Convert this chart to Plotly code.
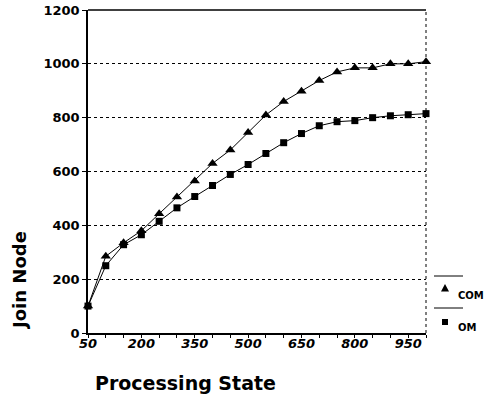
import plotly.graph_objects as go

states = [50, 100, 150, 200, 250, 300, 350, 400, 450, 500,
          550, 600, 650, 700, 750, 800, 850, 900, 950, 1000]
com = [100, 285, 335, 380, 443, 505, 565, 630, 680, 745,
       810, 860, 898, 938, 970, 985, 985, 1000, 1000, 1008]
om = [100, 250, 328, 365, 415, 465, 507, 548, 589, 626,
      667, 707, 741, 770, 785, 789, 800, 807, 811, 815]
x_ticks = [50, 200, 350, 500, 650, 800, 950]
y_ticks = [0, 200, 400, 600, 800, 1000, 1200]
series_names = ["COM", "OM"]

W, H = 492, 395
L, R, T, B = 88, 426, 10, 333  # plot area in pixels
PW, PH = R - L, B - T


def px(x):  # pixel -> paper x
    return (x - L) / PW


def py(y):  # pixel -> paper y
    return (B - y) / PH


FONT = "DejaVu Sans"

fig = go.Figure()
fig.add_trace(go.Scatter(x=states, y=com, mode="lines+markers", name=series_names[0],
                         line=dict(color="black", width=1),
                         marker=dict(symbol="triangle-up", size=9, color="black"),
                         cliponaxis=False))
fig.add_trace(go.Scatter(x=states, y=om, mode="lines+markers", name=series_names[1],
                         line=dict(color="black", width=1),
                         marker=dict(symbol="square", size=7, color="black"),
                         cliponaxis=False))

fig.update_layout(
    width=W, height=H,
    margin=dict(l=L, r=W - R, t=T, b=H - B),
    paper_bgcolor="white", plot_bgcolor="white",
    showlegend=False,
    xaxis=dict(range=[50, 1000], tickvals=x_ticks, automargin=False,
               ticks="outside", ticklen=3, tickwidth=1, tickcolor="black",
               ticklabelstandoff=-5,
               minor=dict(dtick=50, tick0=50, ticks="outside", ticklen=3, tickcolor="black"),
               showline=True, linecolor="black", linewidth=1.5,
               showgrid=False, zeroline=False,
               tickfont=dict(family=FONT, size=13, color="black", weight="bold", style="italic")),
    yaxis=dict(range=[0, 1200], tickvals=y_ticks, automargin=False,
               ticks="outside", ticklen=4, tickwidth=1, tickcolor="black",
               showline=True, linecolor="black", linewidth=1.5,
               showgrid=True, gridcolor="black", gridwidth=1, griddash="dot",
               zeroline=False,
               tickfont=dict(family=FONT, size=13, color="black", weight="bold")),
)

# frame: top solid, right dotted
fig.add_shape(type="line", xref="paper", yref="paper", x0=0, x1=1, y0=1, y1=1,
              line=dict(color="black", width=1.5))
fig.add_shape(type="line", xref="paper", yref="paper", x0=1, x1=1, y0=0, y1=1,
              line=dict(color="black", width=1, dash="dot"))

# legend: separator line above each symbol
for yy in (276, 308):
    fig.add_shape(type="line", xref="paper", yref="paper", x0=px(434), x1=px(463),
                  y0=py(yy), y1=py(yy), line=dict(color="black", width=1))
# triangle symbol
cx, cy = 445, 288
fig.add_shape(type="path", xref="paper", yref="paper",
              path=f"M {px(cx - 4)} {py(cy + 3.5)} L {px(cx + 4)} {py(cy + 3.5)} L {px(cx)} {py(cy - 4)} Z",
              fillcolor="black", line=dict(color="black", width=0))
# square symbol
cx, cy = 445, 322
fig.add_shape(type="rect", xref="paper", yref="paper",
              x0=px(cx - 3), x1=px(cx + 3), y0=py(cy + 3), y1=py(cy - 3),
              fillcolor="black", line=dict(color="black", width=0))

fig.add_annotation(xref="paper", yref="paper", x=px(456), y=py(295), text=series_names[0],
                   showarrow=False, xanchor="left", yanchor="middle",
                   font=dict(family=FONT, size=10, color="black", weight="bold"))
fig.add_annotation(xref="paper", yref="paper", x=px(456), y=py(327), text=series_names[1],
                   showarrow=False, xanchor="left", yanchor="middle",
                   font=dict(family=FONT, size=10, color="black", weight="bold"))

# axis titles
fig.add_annotation(xref="paper", yref="paper", x=px(185), y=py(383), text="Processing State",
                   showarrow=False, xanchor="center", yanchor="middle",
                   font=dict(family=FONT, size=19, color="black", weight="bold"))
fig.add_annotation(xref="paper", yref="paper", x=px(19), y=py(281), text="Join Node",
                   showarrow=False, textangle=-90, xanchor="center", yanchor="middle",
                   font=dict(family=FONT, size=18, color="black", weight="bold"))

fig.write_html("out.html", config={"displayModeBar": False},
               post_script="document.body.style.margin='0';document.body.style.padding='0';")
